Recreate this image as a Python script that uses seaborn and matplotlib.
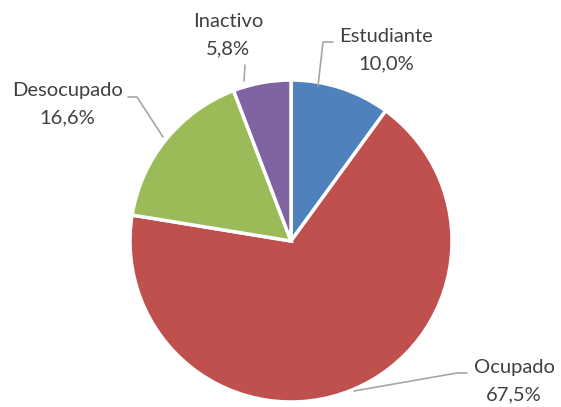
import numpy as np
import matplotlib.pyplot as plt
import seaborn as sns

categorias = ['Estudiante', 'Ocupado', 'Desocupado', 'Inactivo']
porcentajes = [10.0, 67.5, 16.6, 5.8]
colores = ['#4F81BD', '#C0504D', '#9BBB59', '#8064A2']

sns.set_style('white')
plt.rcParams['font.family'] = ['Lato', 'DejaVu Sans']

fig = plt.figure(figsize=(5.61, 4.07), dpi=100)
ax = fig.add_axes([0, 0, 1, 1])

# pixel -> data (center 291,241, radius 161 px)
def px(x, y):
    return ((x - 291) / 161.0, (241 - y) / 161.0)

wedges, _ = ax.pie(porcentajes, colors=colores, startangle=90, counterclock=False,
                   radius=1, center=(0, 0),
                   wedgeprops=dict(edgecolor='white', linewidth=2.5))
ax.set_xlim(px(0, 0)[0], px(561, 0)[0])
ax.set_ylim(px(0, 407)[1], px(0, 0)[1])
ax.set_aspect('auto')
ax.axis('off')

# label centres and leader lines (pixel coords)
pos_txt = [(386, 50), (514, 381), (67, 104), (228, 35)]
lineas = [
    [(333, 42), (323, 42), (318, 86)],
    [(467, 373), (457, 373), (354, 391)],
    [(128, 97), (137, 97), (163, 137)],
    [(245, 65), (244, 81)],
]

for cat, val, (tx, ty), ln in zip(categorias, porcentajes, pos_txt, lineas):
    etiqueta = cat + '\n' + ('%.1f' % val).replace('.', ',') + '%'
    x, y = px(tx, ty)
    ax.text(x, y, etiqueta, ha='center', va='center', fontsize=14.5,
            color='#404040', linespacing=1.75)
    pts = [px(a, b) for a, b in ln]
    ax.plot([p[0] for p in pts], [p[1] for p in pts], color='#A6A6A6', lw=1.2)

plt.savefig('out.png', dpi=100)
